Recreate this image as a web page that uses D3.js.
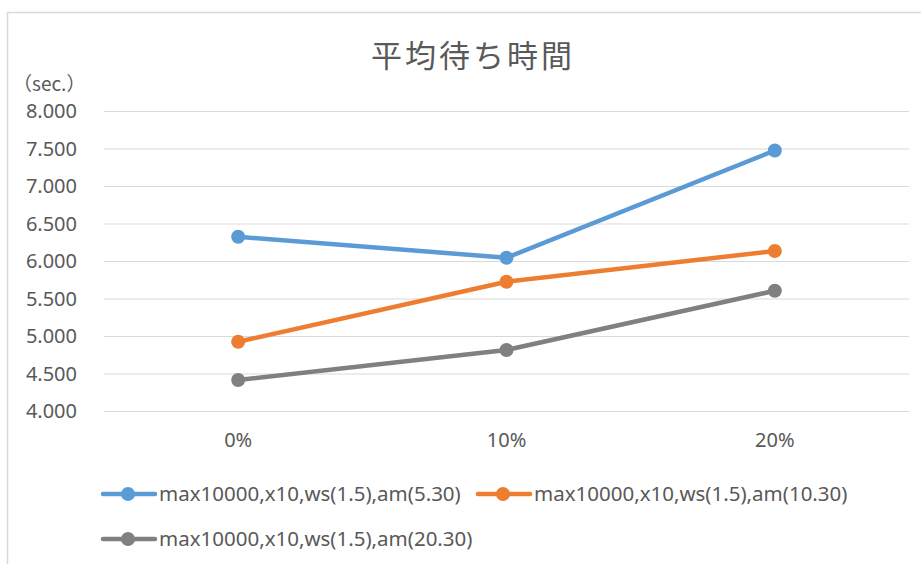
<!DOCTYPE html>
<html><head><meta charset="utf-8">
<script src="https://cdn.jsdelivr.net/npm/d3@7"></script>
<style>
html,body{margin:0;padding:0;background:#fff;}
svg{display:block;}
</style></head>
<body>
<svg id="c" width="921" height="564"></svg>
<script>
const categories = ["0%", "10%", "20%"];
const seriesNames = ["max10000,x10,ws(1.5),am(5.30)", "max10000,x10,ws(1.5),am(10.30)", "max10000,x10,ws(1.5),am(20.30)"];
const seriesA = [6.33, 6.05, 7.48];
const seriesB = [4.93, 5.73, 6.14];
const seriesC = [4.42, 4.82, 5.61];
const yTicks = [4, 4.5, 5, 5.5, 6, 6.5, 7, 7.5, 8];
const colors = ["#5B9BD5", "#ED7D31", "#808080"];
const title = "平均待ち時間";
const unit = "（sec.）";

const series = [seriesA, seriesB, seriesC];
const svg = d3.select("#c");
const font = "'Noto Sans CJK JP', 'Noto Sans', sans-serif";
const latin = "'Noto Sans', sans-serif";

// chart frame
svg.append("rect").attr("x", 7.5).attr("y", 12.5).attr("width", 940).attr("height", 600)
  .attr("fill", "#fff").attr("stroke", "#d9d9d9").attr("stroke-width", 1.5);

const m = {left: 104, right: 909, top: 111.5, bottom: 411.5};
const x = d3.scaleBand().domain(categories).range([m.left, m.right]);
const y = d3.scaleLinear().domain([4, 8]).range([m.bottom, m.top]);

// gridlines
svg.append("g").selectAll("line").data(yTicks).join("line")
  .attr("x1", m.left).attr("x2", m.right)
  .attr("y1", d => y(d)).attr("y2", d => y(d))
  .attr("stroke", "#d9d9d9").attr("stroke-width", 1.2);

// y axis labels
const yAxis = d3.axisLeft(y).tickValues(yTicks).tickFormat(d3.format(".3f")).tickSize(0).tickPadding(0);
const gy = svg.append("g").attr("transform", `translate(77,0)`).call(yAxis);
gy.select(".domain").remove();
gy.selectAll("text").attr("font-family", latin).attr("font-size", 20).attr("fill", "#595959");

// x axis labels
const xAxis = d3.axisBottom(x).tickSize(0).tickPadding(0);
const gx = svg.append("g").attr("transform", `translate(0,433)`).call(xAxis);
gx.select(".domain").remove();
gx.selectAll("text").attr("font-family", latin).attr("font-size", 20).attr("fill", "#595959");

// title
svg.append("text").attr("x", 473).attr("y", 67).attr("text-anchor", "middle")
  .attr("font-family", font).attr("font-size", 31).attr("letter-spacing", 3).attr("fill", "#595959").text(title);
svg.append("text").attr("x", 13).attr("y", 91)
  .attr("font-family", font).attr("font-size", 19).attr("fill", "#595959").text(unit);

// lines
const line = d3.line().x((d, i) => x(categories[i]) + x.bandwidth() / 2).y(d => y(d));
series.forEach((s, k) => {
  svg.append("path").datum(s).attr("d", line).attr("fill", "none")
    .attr("stroke", colors[k]).attr("stroke-width", 4.5).attr("stroke-linejoin", "round").attr("stroke-linecap", "round");
  svg.append("g").selectAll("circle").data(s).join("circle")
    .attr("cx", (d, i) => x(categories[i]) + x.bandwidth() / 2).attr("cy", d => y(d))
    .attr("r", 7).attr("fill", colors[k]);
});

// legend
const legendPos = [[103, 494], [478, 494], [103, 539]];
series.forEach((s, k) => {
  const [lx, ly] = legendPos[k];
  const g = svg.append("g").attr("transform", `translate(${lx},${ly})`);
  g.append("line").attr("x1", 0).attr("x2", 52).attr("y1", 0).attr("y2", 0)
    .attr("stroke", colors[k]).attr("stroke-width", 4.5).attr("stroke-linecap", "round");
  g.append("circle").attr("cx", 25).attr("cy", 0).attr("r", 7).attr("fill", colors[k]);
  g.append("text").attr("x", 56).attr("y", 7).attr("font-family", latin)
    .attr("font-size", 20.5).attr("fill", "#595959").text(seriesNames[k]);
});
</script>
</body></html>
